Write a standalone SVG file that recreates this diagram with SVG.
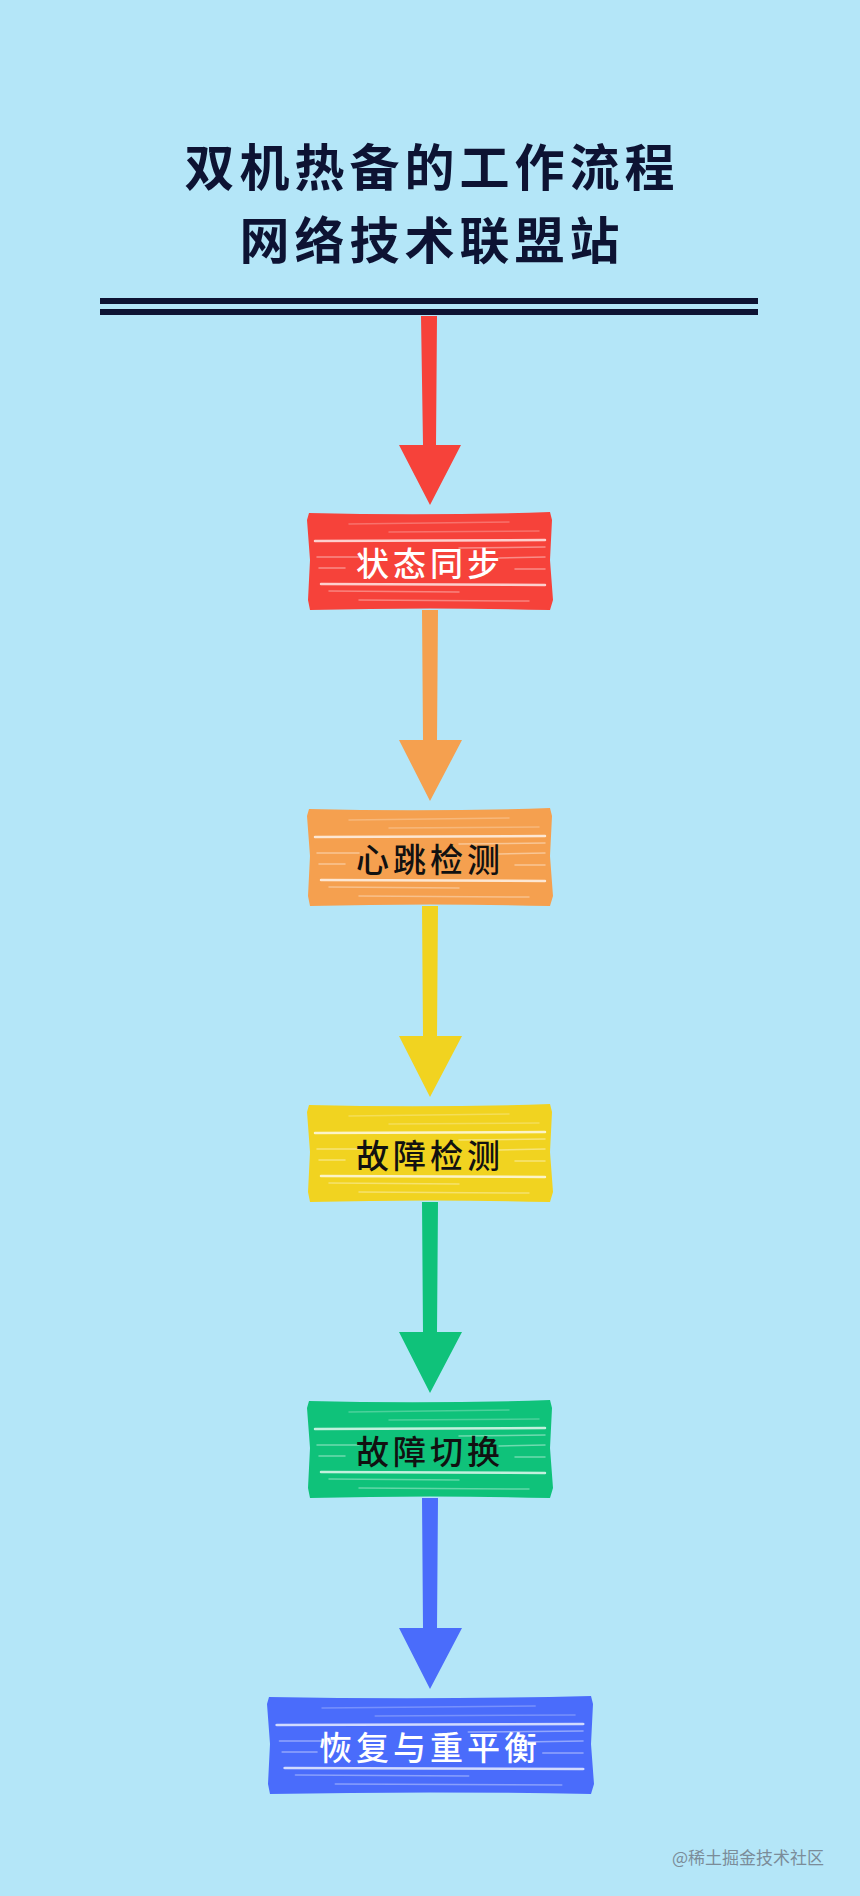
<svg xmlns="http://www.w3.org/2000/svg" xmlns:xlink="http://www.w3.org/1999/xlink" width="860" height="1896" viewBox="0 0 860 1896">
<style>
.title{font-family:"Noto Sans CJK SC","Noto Sans",sans-serif;font-weight:700;font-size:50px;fill:#0d1333;text-anchor:middle;letter-spacing:5px}
.lbl{font-family:"Noto Sans CJK SC","Noto Sans",sans-serif;font-weight:500;font-size:33px;text-anchor:middle;letter-spacing:4px}
.wm{font-family:"Noto Sans CJK SC","Noto Sans",sans-serif;font-size:17px;fill:#7b8c99}
.streak{stroke:#ffffff;stroke-linecap:round;fill:none}
</style>
<defs>
<g id="tex">
<path class="streak" stroke-opacity="0.25" stroke-width="1.5" d="M40 12 L200 10 M80 20 L230 19"/>
<path class="streak" stroke-opacity="0.75" stroke-width="2.5" d="M6 29 L236 28"/>
<path class="streak" stroke-opacity="0.4" stroke-width="1.5" d="M150 36 L236 35 M8 45 L50 45 M190 46 L236 45 M10 56 L36 56 M206 57 L236 57"/>
<path class="streak" stroke-opacity="0.75" stroke-width="2.5" d="M12 72 L236 73"/>
<path class="streak" stroke-opacity="0.35" stroke-width="1.5" d="M20 79 L150 80 M50 88 L220 89"/>
</g>
</defs>
<rect x="0" y="0" width="860" height="1896" fill="#b4e6f8"/>
<g id="title">
<text class="title" x="432" y="186">双机热备的工作流程</text>
<text class="title" x="432" y="259">网络技术联盟站</text>
</g>
<g id="divider" fill="#0d1333">
<rect x="100" y="298" width="658" height="6"/>
<rect x="100" y="309" width="658" height="6"/>
</g>
<g id="connectors">
<polygon fill="#f6423a" points="421,316 437,316 436,445 461,445 430,505 399,445 423,445"/>
<polygon fill="#f5a04f" points="422,610 438,610 437,740 462,740 430,801 399,740 423,740"/>
<polygon fill="#f1d320" points="422,906 438,906 437,1036 462,1036 430,1097 399,1036 423,1036"/>
<polygon fill="#0fc27a" points="422,1202 438,1202 437,1332 462,1332 430,1393 399,1332 423,1332"/>
<polygon fill="#4a6cfb" points="422,1498 438,1498 437,1628 462,1628 430,1689 399,1628 423,1628"/>
</g>
<g id="node1">
<path fill="#f6423a" d="M309 513 Q430 516 550 512 L552 520 L550 560 L553 600 L550 610 Q430 607 310 610 L308 600 L310 560 L307 520 Z"/>
<use xlink:href="#tex" transform="translate(309,512)"/>
<text class="lbl" x="430" y="576" fill="#ffffff">状态同步</text>
</g>
<g id="node2">
<path fill="#f5a04f" d="M309 809 Q430 812 550 808 L552 816 L550 856 L553 896 L550 906 Q430 903 310 906 L308 896 L310 856 L307 816 Z"/>
<use xlink:href="#tex" transform="translate(309,808)"/>
<text class="lbl" x="430" y="872" fill="#111111">心跳检测</text>
</g>
<g id="node3">
<path fill="#f1d320" d="M309 1105 Q430 1108 550 1104 L552 1112 L550 1152 L553 1192 L550 1202 Q430 1199 310 1202 L308 1192 L310 1152 L307 1112 Z"/>
<use xlink:href="#tex" transform="translate(309,1104)"/>
<text class="lbl" x="430" y="1168" fill="#111111">故障检测</text>
</g>
<g id="node4">
<path fill="#0fc27a" d="M309 1401 Q430 1404 550 1400 L552 1408 L550 1448 L553 1488 L550 1498 Q430 1495 310 1498 L308 1488 L310 1448 L307 1408 Z"/>
<use xlink:href="#tex" transform="translate(309,1400)"/>
<text class="lbl" x="430" y="1464" fill="#111111">故障切换</text>
</g>
<g id="node5">
<path fill="#4a6cfb" d="M269 1697 Q430 1700 591 1696 L593 1704 L591 1744 L594 1784 L591 1794 Q430 1791 270 1794 L268 1784 L270 1744 L267 1704 Z"/>
<use xlink:href="#tex" transform="translate(269,1696) scale(1.33,1)"/>
<text class="lbl" x="430" y="1760" fill="#ffffff">恢复与重平衡</text>
</g>
<g id="watermark">
<text class="wm" x="672" y="1864">@稀土掘金技术社区</text>
</g>
</svg>
